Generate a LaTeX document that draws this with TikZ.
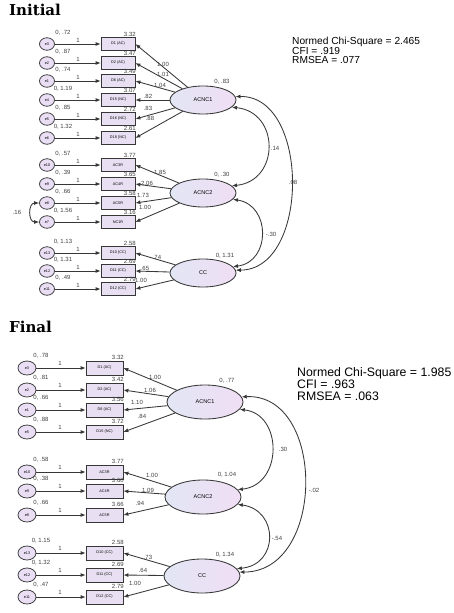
\documentclass[tikz,border=0pt]{standalone}
\usepackage{fontspec}
\setmainfont{Liberation Sans}
\newfontfamily\titlefont{DejaVu Serif}
\usetikzlibrary{arrows.meta,shapes.geometric}
\definecolor{boxfill}{RGB}{232,224,242}
\definecolor{errfill}{RGB}{234,222,245}
\definecolor{latL}{RGB}{226,230,244}
\definecolor{latR}{RGB}{240,222,244}
\definecolor{ln}{RGB}{55,55,55}
\tikzset{
  err/.style={ellipse, draw=ln, line width=0.75pt, fill=errfill, inner sep=0pt, font=\fontsize{3.8}{4}\selectfont},
  errI/.style={err, minimum width=15pt, minimum height=12.5pt},
  errF/.style={err, minimum width=18pt, minimum height=14pt},
  obs/.style={rectangle, draw=ln, line width=0.75pt, fill=boxfill, inner sep=0pt, font=\fontsize{3.8}{4}\selectfont},
  obsI/.style={obs, minimum width=34pt, minimum height=13pt},
  obsF/.style={obs, minimum width=37pt, minimum height=14pt},
  lat/.style={ellipse, draw=ln, line width=0.85pt, left color=latL, right color=latR, inner sep=0pt, font=\fontsize{5.5}{6}\selectfont},
  latI/.style={lat, minimum width=66pt, minimum height=28pt},
  latF/.style={lat, minimum width=76pt, minimum height=34pt},
  lbl/.style={font=\fontsize{6}{6}\selectfont, inner sep=0.5pt, text=black!75},
  arr/.style={draw=ln, line width=0.85pt, -{Latex[length=5pt,width=4pt]}},
  cov/.style={draw=ln, line width=0.85pt, {Latex[length=5pt,width=4pt]}-{Latex[length=5pt,width=4pt]}},
  fitI/.style={align=left, anchor=north west, inner sep=0pt, font=\fontsize{10.2}{9.7}\selectfont},
  fitF/.style={align=left, anchor=north west, inner sep=0pt, font=\fontsize{12.3}{12}\selectfont},
  ttl/.style={anchor=north west, inner sep=0pt, font=\titlefont\bfseries\fontsize{15}{15}\selectfont}
}
\begin{document}
\begin{tikzpicture}[x=1pt,y=-1pt]
\useasboundingbox[fill=white] (0,0) rectangle (453,613);

% ---------------- Initial ----------------
\node[ttl] (tI) at (9,4) {Initial};

\node[latI] (IL1) at (203,100) {ACNC1};
\node[latI] (IL2) at (203,193) {ACNC2};
\node[latI] (IL3) at (203,273) {CC};
\node[lbl] (IL1v) at (222,82) {0, .83};
\node[lbl] (IL2v) at (222,175) {0, .30};
\node[lbl] (IL3v) at (225,256) {0, 1.31};

\foreach \n/\y/\b/\e/\v/\c in {
  1/44/D1 (AC)/e3/{0, .72}/3.32,
  2/63/D2 (AC)/e2/{0, .87}/3.47,
  3/81/D6 (AC)/e1/{0, .74}/3.49,
  4/100/D15 (NC)/e4/{0, 1.19}/3.07,
  5/119/D16 (NC)/e5/{0, .85}/2.72,
  6/138/D18 (NC)/e6/{0, 1.32}/2.61,
  7/165/AC3R/e10/{0, .57}/3.77,
  8/184/AC4R/e9/{0, .39}/3.65,
  9/203/AC5R/e8/{0, .66}/3.58,
  10/222/NC1R/e7/{0, 1.56}/3.16,
  11/253/D10 (CC)/e13/{0, 1.13}/2.58,
  12/271/D11 (CC)/e12/{0, 1.31}/2.69,
  13/289/D12 (CC)/e11/{0, .49}/2.79}{
  \node[errI] (Ie\n) at (47,\y) {\e};
  \node[obsI] (Ib\n) at (118,\y) {\b};
  \draw[arr] (Ie\n) -- (Ib\n);
  \node[lbl] (Ione\n) at (78,\y-4) {1};
  \node[lbl] (Iv\n) at (63,\y-11) {\v};
  \node[lbl, anchor=south east] (Ic\n) at ([xshift=1pt]Ib\n.north east) {\c};
}

\foreach \n/\t/\x/\y in {1/1.00/163/64, 2/1.01/163/74, 3/1.04/160/85, 4/.82/148/96, 5/.83/148/108, 6/.88/150/118}{
  \draw[arr] (IL1) -- (Ib\n.east);
  \node[lbl] (Il\n) at (\x,\y) {\t};
}
\foreach \n/\t/\x/\y in {7/1.85/160/172, 8/2.06/147/183, 9/1.73/143/195, 10/1.00/145/207}{
  \draw[arr] (IL2) -- (Ib\n.east);
  \node[lbl] (Il\n) at (\x,\y) {\t};
}
\foreach \n/\t/\x/\y in {11/.74/157/257, 12/.65/145/268, 13/1.00/141/280}{
  \draw[arr] (IL3) -- (Ib\n.east);
  \node[lbl] (Il\n) at (\x,\y) {\t};
}

\draw[cov] (Ie9.west) .. controls (28,203) and (28,222) .. (Ie10.west);
\node[lbl] (Ic16) at (17,212) {.16};

\draw[cov] (IL1.-14) .. controls (280,112) and (280,181) .. (IL2.14);
\node[lbl] (Icov1) at (275,148) {.14};
\draw[cov] (IL1.6) .. controls (310,95) and (310,270) .. (IL3.5);
\node[lbl] (Icov2) at (293,182) {.08};
\draw[cov] (IL2.-12) .. controls (271,205) and (271,262) .. (IL3.12);
\node[lbl] (Icov3) at (271,234) {-.30};

\node[fitI] (fitI) at (292,37) {Normed Chi-Square = 2.465\\CFI = .919\\RMSEA = .077};

% ---------------- Final ----------------
\node[ttl] (tF) at (9,321) {Final};

\node[latF] (FL1) at (205,402) {ACNC1};
\node[latF] (FL2) at (203,497) {ACNC2};
\node[latF] (FL3) at (202,576) {CC};
\node[lbl] (FL1v) at (227,381) {0, .77};
\node[lbl] (FL2v) at (227,475) {0, 1.04};
\node[lbl] (FL3v) at (225,555) {0, 1.34};

\foreach \n/\y/\b/\e/\v/\c in {
  1/368/D1 (AC)/e3/{0, .78}/3.32,
  2/390/D2 (AC)/e2/{0, .81}/3.42,
  3/410/D6 (AC)/e1/{0, .66}/3.56,
  4/432/D15 (NC)/e5/{0, .88}/3.72,
  5/472/AC3R/e10/{0, .58}/3.77,
  6/491/AC4R/e9/{0, .38}/3.60,
  7/515/AC5R/e8/{0, .66}/3.66,
  8/553/D10 (CC)/e13/{0, 1.15}/2.58,
  9/575/D11 (CC)/e12/{0, 1.32}/2.69,
  10/597/D12 (CC)/e11/{0, .47}/2.79}{
  \node[errF] (Fe\n) at (27,\y) {\e};
  \node[obsF] (Fb\n) at (104.5,\y) {\b};
  \draw[arr] (Fe\n) -- (Fb\n);
  \node[lbl] (Fone\n) at (60,\y-5) {1};
  \node[lbl] (Fv\n) at (41,\y-12) {\v};
  \node[lbl, anchor=south east] (Fc\n) at ([xshift=1pt]Fb\n.north east) {\c};
}

\foreach \n/\t/\x/\y in {1/1.00/155/377, 2/1.06/150/390, 3/1.10/137/402, 4/.84/142/416}{
  \draw[arr] (FL1) -- (Fb\n.east);
  \node[lbl] (Fl\n) at (\x,\y) {\t};
}
\foreach \n/\t/\x/\y in {5/1.00/152/475, 6/1.09/148/490, 7/.94/140/503}{
  \draw[arr] (FL2) -- (Fb\n.east);
  \node[lbl] (Fl\n) at (\x,\y) {\t};
}
\foreach \n/\t/\x/\y in {8/.73/148/557, 9/.64/143/570, 10/1.00/135/583}{
  \draw[arr] (FL3) -- (Fb\n.east);
  \node[lbl] (Fl\n) at (\x,\y) {\t};
}

\draw[cov] (FL1.-12) .. controls (283,414) and (283,485) .. (FL2.12);
\node[lbl] (Fcov1) at (283,449) {.30};
\draw[cov] (FL1.8) .. controls (326,393) and (326,572) .. (FL3.6);
\node[lbl] (Fcov2) at (314,490) {-.02};
\draw[cov] (FL2.-12) .. controls (279,510) and (279,565) .. (FL3.12);
\node[lbl] (Fcov3) at (277,538) {-.54};

\node[fitF] (fitF) at (297,367) {Normed Chi-Square = 1.985\\CFI = .963\\RMSEA = .063};
\end{tikzpicture}
\end{document}
